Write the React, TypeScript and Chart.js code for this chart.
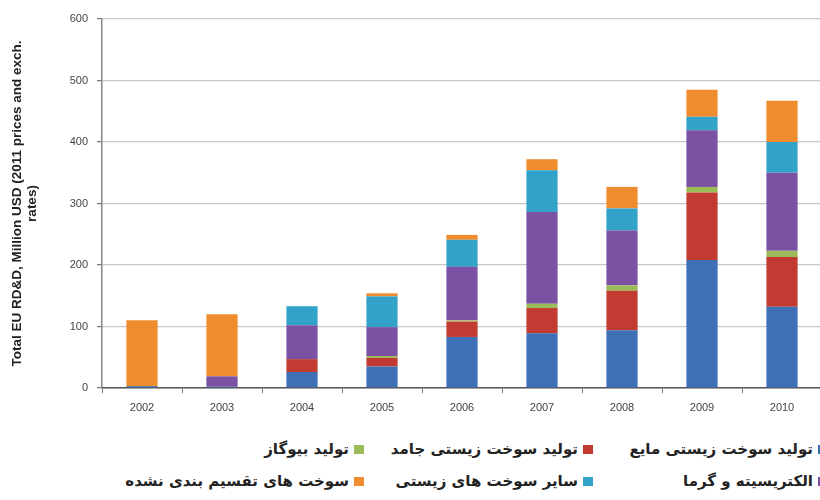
import React, { useEffect, useRef } from "react";
import { Chart, registerables } from "chart.js";

Chart.register(...registerables);

const years = ["2002", "2003", "2004", "2005", "2006", "2007", "2008", "2009", "2010"];

const liquidBiofuels = [3, 2, 26, 35, 83, 89, 94, 208, 132];
const solidBiofuels = [0, 0, 21, 14, 25, 41, 64, 110, 81];
const biogas = [0, 0, 0, 3, 2, 7, 9, 9, 10];
const electricityHeat = [0, 17, 55, 47, 87, 149, 89, 92, 127];
const otherBiofuels = [0, 0, 31, 50, 44, 68, 36, 22, 50];
const unallocated = [107, 101, 0, 5, 8, 18, 35, 44, 67];

const seriesNames = [
  "تولید سوخت زیستی مایع",
  "تولید سوخت زیستی جامد",
  "تولید بیوگاز",
  "الکتریسیته و گرما",
  "سایر سوخت های زیستی",
  "سوخت های تقسیم بندی نشده",
];
const seriesValues = [liquidBiofuels, solidBiofuels, biogas, electricityHeat, otherBiofuels, unallocated];
const seriesColors = ["#3f70b5", "#c23b33", "#9bbb59", "#7b52a3", "#33a2c8", "#ee8c2e"];

const yTitle = ["Total EU RD&D, Million USD (2011 prices and exch.", "rates)"];

// legend column right offsets (px from right edge of 820 frame) and row tops
const legendCols = [-8, 227, 456];
const legendRows = [439, 471];

export default function App() {
  const canvasRef = useRef<HTMLCanvasElement | null>(null);

  useEffect(() => {
    if (!canvasRef.current) return;
    const chart = new Chart(canvasRef.current, {
      type: "bar",
      data: {
        labels: years,
        datasets: seriesNames.map((name, i) => ({
          label: name,
          data: seriesValues[i],
          backgroundColor: seriesColors[i],
          borderWidth: 0,
          barPercentage: 0.39,
          categoryPercentage: 1,
        })),
      },
      options: {
        responsive: false,
        animation: false,
        layout: { padding: { left: 0, right: 8, top: 19, bottom: 2 } },
        plugins: {
          legend: { display: false },
          tooltip: { enabled: false },
        },
        scales: {
          x: {
            stacked: true,
            afterFit: (scale: any) => {
              scale.height = 30;
            },
            grid: {
              drawOnChartArea: false,
              drawTicks: true,
              tickLength: 5,
              tickColor: "#777",
              offset: true,
            },
            border: { color: "#555", width: 1.5 },
            ticks: {
              padding: 8,
              color: "#444",
              font: { family: "Liberation Sans", size: 11 },
            },
          },
          y: {
            stacked: true,
            min: 0,
            max: 600,
            afterFit: (scale: any) => {
              scale.width = 102;
            },
            ticks: {
              stepSize: 100,
              padding: 9,
              color: "#444",
              font: { family: "Liberation Sans", size: 11 },
            },
            grid: {
              color: "#c8c8c8",
              lineWidth: 1.2,
              tickLength: 5,
              tickColor: "#777",
            },
            border: { color: "#888", width: 1.5 },
            title: {
              display: true,
              text: yTitle,
              color: "#222",
              font: { family: "Liberation Sans", size: 13.5, weight: "bold", lineHeight: 1.12 },
              padding: { top: 10, bottom: 0 },
            },
          },
        },
      },
    });
    return () => chart.destroy();
  }, []);

  return (
    <div
      style={{
        position: "absolute",
        left: 0,
        top: 0,
        width: 820,
        height: 500,
        overflow: "hidden",
        background: "#fff",
      }}
    >
      <canvas
        ref={canvasRef}
        width={830}
        height={420}
        style={{ position: "absolute", left: 0, top: 0, width: 830, height: 420 }}
      />
      {seriesNames.map((name, i) => {
        const row = Math.floor(i / 3);
        const col = i % 3;
        return (
          <div
            key={name}
            style={{
              position: "absolute",
              top: legendRows[row],
              right: legendCols[col],
              direction: "rtl",
              display: "flex",
              alignItems: "center",
              whiteSpace: "nowrap",
              fontFamily: "'DejaVu Sans', sans-serif",
              fontWeight: "bold",
              fontSize: 15,
              color: "#222",
              lineHeight: "20px",
            }}
          >
            <span
              style={{
                display: "inline-block",
                width: 10,
                height: 9,
                background: seriesColors[i],
                marginLeft: 5,
              }}
            />
            <span>{name}</span>
          </div>
        );
      })}
    </div>
  );
}
